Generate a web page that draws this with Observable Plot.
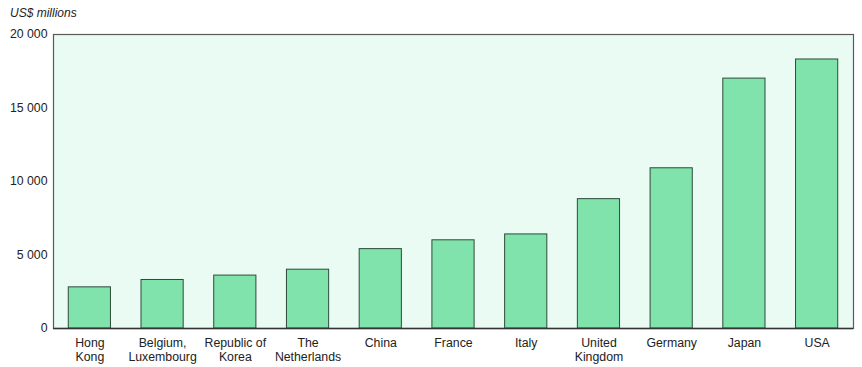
<!DOCTYPE html>
<html>
<head>
<meta charset="utf-8">
<script src="https://cdn.jsdelivr.net/npm/d3@7"></script>
<script src="https://cdn.jsdelivr.net/npm/@observablehq/plot@0.6"></script>
<style>
  body { margin: 0; background: #fff; font-family: "Liberation Sans", Arial, sans-serif; }
  #wrap { position: relative; width: 862px; height: 367px; }
  #unit { position: absolute; left: 10px; top: 6px; font-size: 12px; font-style: italic; color: #222; }
</style>
</head>
<body>
<div id="wrap"><div id="unit">US$ millions</div></div>
<script>
const countries = ["Hong Kong", "Belgium, Luxembourg", "Republic of Korea", "The Netherlands", "China", "France", "Italy", "United Kingdom", "Germany", "Japan", "USA"];
const tickLabels = ["Hong\nKong", "Belgium,\nLuxembourg", "Republic of\nKorea", "The\nNetherlands", "China", "France", "Italy", "United\nKingdom", "Germany", "Japan", "USA"];
const values = [2800, 3300, 3600, 4000, 5400, 6000, 6400, 8800, 10900, 17000, 18300];
const yTicks = [0, 5000, 10000, 15000, 20000];

const data = countries.map((c, i) => ({country: c, value: values[i]}));
const labelOf = new Map(countries.map((c, i) => [c, tickLabels[i]]));
const fmt = d3.formatLocale({decimal: ".", thousands: " ", grouping: [3], currency: ["$", ""]}).format(",");

const chart = Plot.plot({
  width: 862,
  height: 367,
  marginLeft: 53,
  marginRight: 9,
  marginTop: 34,
  marginBottom: 39,
  style: {fontFamily: "'Liberation Sans', Arial, sans-serif", fontSize: "12px", color: "#222", background: "transparent"},
  x: {domain: countries, paddingInner: 0.42, paddingOuter: 0.21, round: false, label: null},
  y: {domain: [0, 20000], label: null},
  marks: [
    Plot.frame({fill: "#e9fbf2", stroke: "#5a5a5a", strokeWidth: 1.2}),
    Plot.barY(data, {x: "country", y: "value", fill: "#7fe3ab", stroke: "#2f4a3a", strokeWidth: 1}),
    Plot.ruleY([0], {stroke: "#333", strokeWidth: 1.5}),
    Plot.axisX({tickSize: 0, tickPadding: 8, lineHeight: 1.15, fontSize: 12.3, tickFormat: d => labelOf.get(d), label: null}),
    Plot.axisY({ticks: yTicks, tickSize: 0, tickPadding: 6, fontSize: 12.3, tickFormat: fmt, label: null})
  ]
});
document.getElementById("wrap").appendChild(chart);
</script>
</body>
</html>
